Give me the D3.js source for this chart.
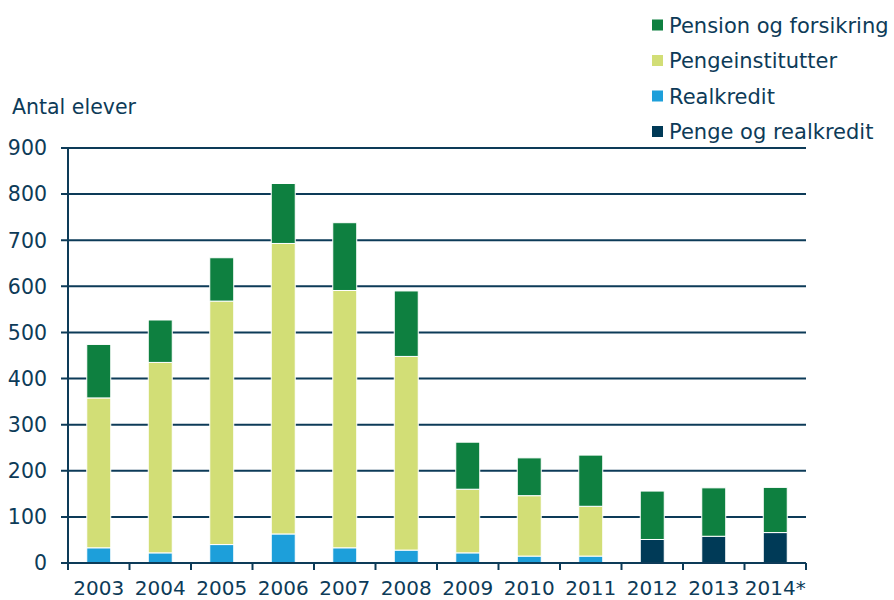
<!DOCTYPE html>
<html>
<head>
<meta charset="utf-8">
<script src="https://cdn.jsdelivr.net/npm/d3@7"></script>
<style>
  body { margin: 0; background: #fff; }
  svg text { font-family: "DejaVu Sans", Verdana, sans-serif; fill: #0d3b58; }
</style>
</head>
<body>
<div id="container"></div>
<script>
/* DATA */
const years = ["2003", "2004", "2005", "2006", "2007", "2008", "2009", "2010", "2011", "2012", "2013", "2014*"];
const pengeOgRealkredit = [0, 0, 0, 0, 0, 0, 0, 0, 0, 51, 58, 66];
const realkredit = [33, 22, 40, 63, 33, 28, 22, 15, 15, 0, 0, 0];
const pengeinstitutter = [325, 413, 528, 630, 558, 420, 138, 131, 108, 0, 0, 0];
const pensionOgForsikring = [116, 92, 94, 130, 147, 142, 102, 82, 111, 105, 105, 98];
const yTicks = [0, 100, 200, 300, 400, 500, 600, 700, 800, 900];

const seriesNames = ["Penge og realkredit", "Realkredit", "Pengeinstitutter", "Pension og forsikring"];
const seriesValues = [pengeOgRealkredit, realkredit, pengeinstitutter, pensionOgForsikring];
const colors = ["#003a57", "#1d9fda", "#d2de76", "#0e8040"];

/* CONSTANTS */
const width = 894, height = 600;
const margin = { top: 148, bottom: 37, left: 68, right: 88 };
const textColor = "#0d3b58";

const table = years.map((y, i) => {
  const row = { year: y };
  seriesNames.forEach((s, j) => row[s] = seriesValues[j][i]);
  return row;
});

const svg = d3.select("#container")
  .append("svg")
  .attr("width", width)
  .attr("height", height);

// SCALES
const x = d3.scaleBand()
  .domain(years)
  .range([margin.left, width - margin.right])
  .paddingInner(0.61)
  .paddingOuter(0.305);

const y = d3.scaleLinear()
  .domain([0, 900])
  .range([height - margin.bottom, margin.top]);

// GRIDLINES (extend left as outward ticks)
svg.append("g")
  .selectAll("line")
  .data(yTicks.filter(d => d > 0))
  .join("line")
  .attr("x1", margin.left - 7)
  .attr("x2", width - margin.right)
  .attr("y1", d => y(d))
  .attr("y2", d => y(d))
  .attr("stroke", textColor)
  .attr("stroke-width", 2);

// Y LABELS
svg.append("g")
  .selectAll("text")
  .data(yTicks)
  .join("text")
  .attr("x", 47)
  .attr("y", d => y(d))
  .attr("dy", "0.36em")
  .attr("text-anchor", "end")
  .attr("font-size", "20.5px")
  .text(d => d);

// STACKED BARS
const stack = d3.stack().keys(seriesNames);
const stacked = stack(table);

svg.append("g")
  .selectAll("g")
  .data(stacked)
  .join("g")
  .attr("fill", (d, i) => colors[i])
  .selectAll("rect")
  .data(d => d.filter(p => p[1] - p[0] > 0))
  .join("rect")
  .attr("x", d => x(d.data.year))
  .attr("width", x.bandwidth())
  .attr("y", d => y(d[1]))
  .attr("height", d => y(d[0]) - y(d[1]))
  .attr("stroke", "#ffffff")
  .attr("stroke-width", 1);

// X AXIS
const step = x.step();
const xTicks = d3.range(years.length + 1).map(i => margin.left + i * step);
svg.append("line")
  .attr("x1", margin.left - 7)
  .attr("x2", width - margin.right)
  .attr("y1", y(0))
  .attr("y2", y(0))
  .attr("stroke", textColor)
  .attr("stroke-width", 2);

svg.append("g")
  .selectAll("line")
  .data(xTicks)
  .join("line")
  .attr("x1", d => d)
  .attr("x2", d => d)
  .attr("y1", y(0))
  .attr("y2", y(0) + 7)
  .attr("stroke", textColor)
  .attr("stroke-width", 2);

// Y AXIS LINE
svg.append("line")
  .attr("x1", margin.left)
  .attr("x2", margin.left)
  .attr("y1", y(900))
  .attr("y2", y(0) + 7)
  .attr("stroke", textColor)
  .attr("stroke-width", 2);

svg.append("g")
  .selectAll("text")
  .data(years)
  .join("text")
  .attr("x", d => x(d) + x.bandwidth() / 2)
  .attr("y", 595)
  .attr("text-anchor", "middle")
  .attr("font-size", "20px")
  .text(d => d);

// AXIS TITLE
svg.append("text")
  .attr("x", 12)
  .attr("y", 107)
  .attr("dy", "0.36em")
  .attr("font-size", "20.5px")
  .text("Antal elever");

// LEGEND
const legendOrder = [3, 2, 1, 0];
const legend = svg.append("g")
  .selectAll("g")
  .data(legendOrder)
  .join("g")
  .attr("transform", (d, i) => `translate(652, ${25 + i * 35.5})`);

legend.append("rect")
  .attr("x", 0)
  .attr("y", -5.5)
  .attr("width", 11)
  .attr("height", 11)
  .attr("fill", d => colors[d]);

legend.append("text")
  .attr("x", 17)
  .attr("y", 0)
  .attr("dy", "0.36em")
  .attr("font-size", "21px")
  .text(d => seriesNames[d]);
</script>
</body>
</html>
